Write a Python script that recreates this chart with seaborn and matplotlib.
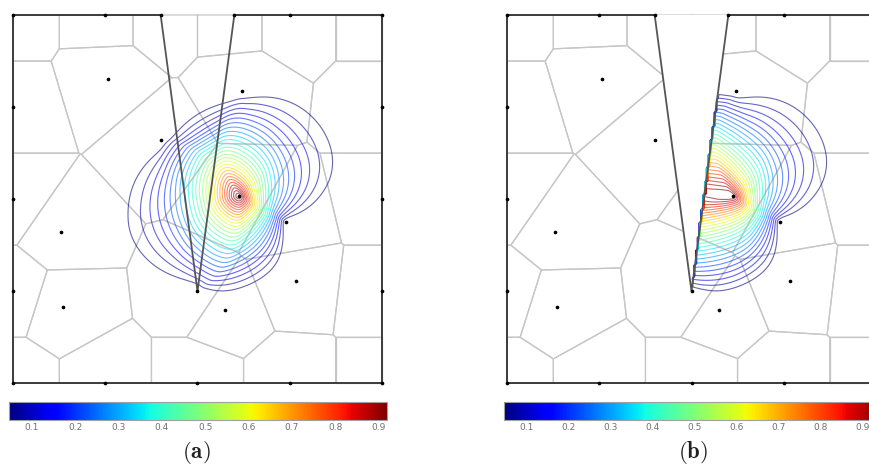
import math
import numpy as np
import pandas as pd
import matplotlib
matplotlib.use("Agg")
import matplotlib.pyplot as plt
import seaborn as sns
from matplotlib.colors import Normalize
from matplotlib.cm import ScalarMappable

# ---------------- data (domain units) ----------------
bnd_x = [0, 1, 2, 3, 4, 4, 4, 4, 4, 3, 2.4, 1.6, 1, 0, 0, 0, 0]
bnd_y = [0, 0, 0, 0, 0, 1, 2, 3, 4, 4, 4, 4, 4, 4, 3, 2, 1]
tip_x = [2.0]
tip_y = [1.0]
int_x = [1.03, 2.48, 1.60, 2.45, 2.96, 0.52, 3.07, 0.54, 2.30]
int_y = [3.31, 3.17, 2.64, 2.03, 1.75, 1.64, 1.11, 0.83, 0.80]
source_node = (2.45, 2.03)          # node whose (Sibson) shape function is drawn
outline_x = [1.6, 0, 0, 4, 4, 2.4]
outline_y = [4, 4, 0, 0, 4, 4]
crack_x = [1.6, 2.0, 2.4]
crack_y = [4, 1, 4]
cbar_ticks = [0.1, 0.2, 0.3, 0.4, 0.5, 0.6, 0.7, 0.8, 0.9]
cbar_range_a = (0.0475, 0.919)
cbar_range_b = (0.0466, 0.945)
panel_labels = ["(a)", "(b)"]

# ---------------- helpers ----------------
nodes_x = np.array(bnd_x + tip_x + int_x, float)
nodes_y = np.array(bnd_y + tip_y + int_y, float)
NN = len(nodes_x)
src = int(np.argmin(np.hypot(nodes_x - source_node[0], nodes_y - source_node[1])))
SX, SY = nodes_x[src], nodes_y[src]
SQUARE = [(0.0, 0.0), (4.0, 0.0), (4.0, 4.0), (0.0, 4.0)]
src_order = [int(j) for j in np.argsort(np.hypot(nodes_x - SX, nodes_y - SY)) if j != src]
src_dist = np.hypot(nodes_x - SX, nodes_y - SY)
# right crack face: from tip to right mouth; half-plane on its right side
RF_A = (crack_x[1], crack_y[1])
RF_B = (crack_x[2], crack_y[2])
RF_N = (-(RF_B[1] - RF_A[1]), RF_B[0] - RF_A[0])       # left-pointing normal
RF_C = RF_N[0] * RF_A[0] + RF_N[1] * RF_A[1]


def orient(ax_, ay_, bx_, by_, cx_, cy_):
    return (bx_ - ax_) * (cy_ - ay_) - (by_ - ay_) * (cx_ - ax_)


def crosses(px, py, X, Y, a, b):
    d1 = orient(a[0], a[1], b[0], b[1], px, py)
    d2 = orient(a[0], a[1], b[0], b[1], X, Y)
    d3 = orient(px, py, X, Y, a[0], a[1])
    d4 = orient(px, py, X, Y, b[0], b[1])
    return (d1 * d2 < 0) & (d3 * d4 < 0)


faces = [((crack_x[0], crack_y[0]), (crack_x[1], crack_y[1])),
         ((crack_x[2], crack_y[2]), (crack_x[1], crack_y[1]))]


def clip(poly, nx, ny, c):
    out = []
    n = len(poly)
    for k in range(n):
        p = poly[k]
        q = poly[(k + 1) % n]
        fp = nx * p[0] + ny * p[1] - c
        fq = nx * q[0] + ny * q[1] - c
        if fp <= 0:
            out.append(p)
            if fq > 0:
                s = fp / (fp - fq)
                out.append((p[0] + s * (q[0] - p[0]), p[1] + s * (q[1] - p[1])))
        elif fq <= 0:
            s = fp / (fp - fq)
            out.append((p[0] + s * (q[0] - p[0]), p[1] + s * (q[1] - p[1])))
    return out


def area(poly):
    a = 0.0
    n = len(poly)
    for k in range(n):
        p, q = poly[k], poly[(k + 1) % n]
        a += p[0] * q[1] - q[0] * p[1]
    return abs(a) / 2


def sibson_value(x, y, order, dist, visible, constrain):
    poly = list(SQUARE)
    if constrain:
        poly = clip(poly, RF_N[0], RF_N[1], RF_C)
    maxv = max(math.hypot(px - x, py - y) for px, py in poly)
    for j in order:
        if dist[j] > 2 * maxv:
            break
        nx, ny = nodes_x[j] - x, nodes_y[j] - y
        poly = clip(poly, nx, ny, nx * (x + nodes_x[j]) / 2 + ny * (y + nodes_y[j]) / 2)
        if not poly:
            return 0.0
        maxv = max(math.hypot(px - x, py - y) for px, py in poly)
    A = area(poly)
    if A <= 0:
        return 0.0
    P = poly
    maxs = max(math.hypot(px - SX, py - SY) for px, py in P)
    for j in src_order:
        if not visible[j]:
            continue
        if src_dist[j] > 2 * maxs:
            break
        nx, ny = nodes_x[j] - SX, nodes_y[j] - SY
        P = clip(P, nx, ny, nx * (SX + nodes_x[j]) / 2 + ny * (SY + nodes_y[j]) / 2)
        if not P:
            return 0.0
        maxs = max(math.hypot(px - SX, py - SY) for px, py in P)
    return area(P) / A


def shape_function(X, Y, visibility):
    phi = np.zeros_like(X)
    D = np.hypot(X[..., None] - nodes_x, Y[..., None] - nodes_y)
    vis = np.ones(X.shape + (NN,), bool)
    if visibility:
        for j in range(NN):
            blocked = np.zeros_like(X, bool)
            for a, b in faces:
                blocked |= crosses(nodes_x[j], nodes_y[j], X, Y, a, b)
            vis[..., j] = ~blocked
    near = np.hypot(X - SX, Y - SY) < 1.6
    if visibility:
        yy = np.clip(Y, 1, 4)
        half = 0.4 * (yy - 1) / 3
        inside = (Y > 1) & (X > 2 - half) & (X < 2 + half)
        near &= ~inside & vis[..., src]
    for i, k in zip(*np.nonzero(near)):
        dist = D[i, k]
        v = vis[i, k]
        order = [j for j in np.argsort(dist) if v[j]]
        constrain = visibility and Y[i, k] > RF_A[1]
        phi[i, k] = sibson_value(X[i, k], Y[i, k], order, dist, v, constrain)
    return phi


def voronoi_cells():
    cells = []
    for i in range(NN):
        poly = list(SQUARE)
        for j in range(NN):
            if i == j:
                continue
            nx, ny = nodes_x[j] - nodes_x[i], nodes_y[j] - nodes_y[i]
            mx = (nodes_x[j] + nodes_x[i]) / 2
            my = (nodes_y[j] + nodes_y[i]) / 2
            poly = clip(poly, nx, ny, nx * mx + ny * my)
            if not poly:
                break
        cells.append(poly)
    return cells


# ---------------- figure ----------------
sns.set_theme(style="white")
plt.rcParams["mathtext.fontset"] = "cm"
fig = plt.figure(figsize=(8.7, 4.66), dpi=100)

W, H = 870.0, 466.0
ax_rects = [[13.3 / W, 1 - 383.3 / H, 368.4 / W, 368.3 / H],
            [507.3 / W, 1 - 383.3 / H, 368.4 / W, 368.3 / H]]
cax_rects = [[9 / W, 1 - 420 / H, 377.7 / W, 18.3 / H],
             [504 / W, 1 - 420 / H, 377.7 / W, 18.3 / H]]
label_pos = [(196 / W, 1 - 452 / H), (693 / W, 1 - 452 / H)]
ranges = [cbar_range_a, cbar_range_b]

g = np.linspace(0.0013, 3.9987, 201)
X, Y = np.meshgrid(g, g)
cells = voronoi_cells()
levels = np.linspace(0.05, 0.95, 27)
node_df = pd.DataFrame({"x": nodes_x, "y": nodes_y})

for k in range(2):
    ax = fig.add_axes(ax_rects[k])
    ax.set_xlim(0, 4)
    ax.set_ylim(0, 4)
    ax.set_axis_off()
    for poly in cells:
        px = [p[0] for p in poly] + [poly[0][0]]
        py = [p[1] for p in poly] + [poly[0][1]]
        ax.plot(px, py, color="#c6c6c6", lw=0.9, zorder=1, clip_on=False)
    if k == 1:
        ax.fill(crack_x, crack_y, color="white", zorder=1.5, lw=0)
    norm = Normalize(*ranges[k])
    phi = shape_function(X, Y, visibility=(k == 1))
    ax.contour(X, Y, phi, levels=levels, cmap="jet", norm=norm,
               linewidths=0.8, alpha=0.6, zorder=2)
    ax.plot(outline_x, outline_y, color="#3c3c3c", lw=1.4, zorder=3,
            clip_on=False, solid_capstyle="butt")
    ax.plot(crack_x, crack_y, color="#555555", lw=1.3, zorder=3, clip_on=False)
    sns.scatterplot(data=node_df, x="x", y="y", ax=ax, color="black", s=7,
                    linewidth=0, zorder=4, clip_on=False, legend=False)

    cax = fig.add_axes(cax_rects[k])
    cb = fig.colorbar(ScalarMappable(norm=norm, cmap="jet"), cax=cax,
                      orientation="horizontal", ticks=cbar_ticks)
    cb.outline.set_edgecolor("#a0a0a0")
    cb.outline.set_linewidth(0.8)
    cax.tick_params(axis="x", direction="in", top=True, bottom=True,
                    length=3, width=0.8, color="#202020", labelsize=6.5,
                    labelcolor="#707070", pad=2.5)
    cax.set_xticklabels([f"{t:.1f}" for t in cbar_ticks])
    fig.text(label_pos[k][0], label_pos[k][1],
             r"$\mathbf{" + panel_labels[k] + "}$",
             ha="center", va="center", fontsize=16.5, color="#202020")

fig.savefig("out.png", dpi=100)
